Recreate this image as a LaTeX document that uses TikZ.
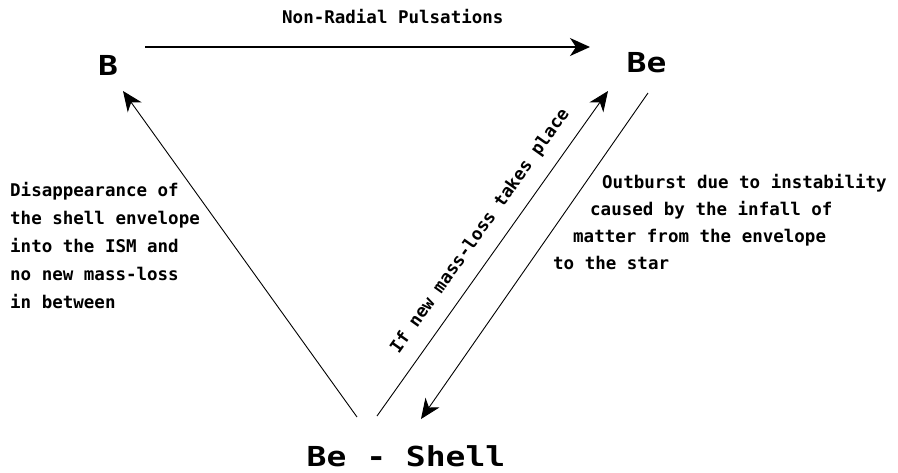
\documentclass[tikz,border=0pt]{standalone}
\usepackage{fontspec}
\newfontfamily\monofont{DejaVu Sans Mono}
\usetikzlibrary{arrows.meta,calc}
\tikzset{
  small/.style={font=\monofont\bfseries\fontsize{17.5}{27.5}\selectfont, inner sep=0pt, anchor=base west},
  big/.style={font=\monofont\bfseries\fontsize{27.5}{30}\selectfont, inner sep=0pt},
  conn/.style={line width=0.9pt, -{Stealth[length=20pt,width=17pt,inset=6pt]}},
  topconn/.style={line width=1.5pt, -{Stealth[length=20pt,width=18pt,inset=6pt]}},
}
\begin{document}
\begin{tikzpicture}[x=1pt,y=1pt]
\useasboundingbox[fill=white] (0,0) rectangle (898,-472);
% states
\node[big] (B)  at (108,-65)  {\scalebox{1.2}[1]{B}};
\node[big] (Be) at (646.5,-63) {\scalebox{1.2}[1]{Be}};
\node[big] (BS) at (406,-456) {\scalebox{1.2}[1]{Be - Shell}};
% connector end points
\coordinate (topS) at ($(B)+(37,18)$);
\coordinate (topE) at ($(Be)+(-56.5,16)$);
\coordinate (leftS) at ($(BS)+(-49,39)$);
\coordinate (leftE) at ($(B)+(15,-26)$);
\coordinate (upS) at ($(BS)+(-29,40)$);
\coordinate (upE) at ($(Be)+(-38.5,-28)$);
\coordinate (dnS) at ($(Be)+(1.5,-30)$);
\coordinate (dnE) at ($(BS)+(15,37)$);
% connectors
\draw[topconn] (topS) -- (topE);
\draw[conn] (leftS) -- (leftE);
\draw[conn] (upS) -- node[pos=0.528, sloped, above=14pt, small, anchor=south, inner sep=0pt] (lblup) {If new mass-loss takes place} (upE);
\draw[conn] (dnS) -- (dnE);
% labels
\node[small] (title) at (282,-23) {Non-Radial Pulsations};
\node[small] (l1) at (10,-196) {Disappearance of};
\node[small] (l2) at (10,-224) {the shell envelope};
\node[small] (l3) at (10,-252) {into the ISM and};
\node[small] (l4) at (10,-280) {no new mass-loss};
\node[small] (l5) at (10,-308) {in between};
\node[small] (r1) at (602,-188) {Outburst due to instability};
\node[small] (r2) at (590,-215) {caused by the infall of};
\node[small] (r3) at (573,-242) {matter from the envelope};
\node[small] (r4) at (553,-269) {to the star};
\end{tikzpicture}
\end{document}
